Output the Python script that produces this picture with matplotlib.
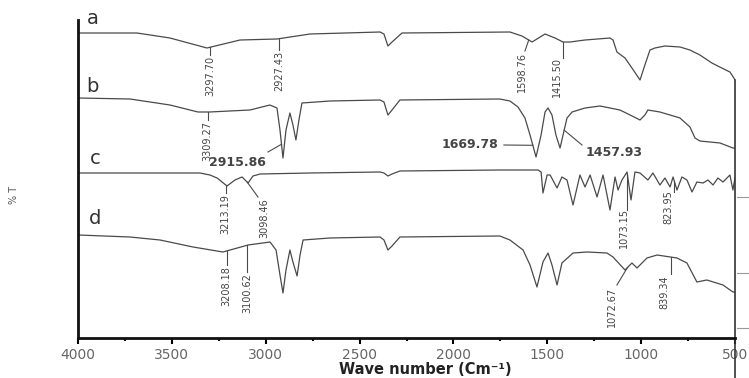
import numpy as np
import matplotlib.pyplot as plt

# FTIR spectra, wavenumber (cm-1) vs transmittance (offset, arbitrary units)
wn_a = [4000, 3686, 3510, 3313, 3137, 2940, 2764, 2391, 2370, 2349, 2327, 2274,
        1699, 1635, 1581, 1512, 1459, 1416, 1379, 1299, 1166, 1150, 1129, 1086,
        1049, 1006, 980, 953, 927, 873, 793, 740, 687, 623, 581, 527, 506, 500]
t_a = [305, 305, 300, 290, 298, 299, 304, 306, 304, 292, 296, 305,
       306, 302, 296, 304, 300, 296, 296, 298, 300, 298, 286, 280,
       270, 258, 273, 288, 290, 292, 291, 288, 283, 275, 271, 266, 260, 258]

wn_b = [4000, 3723, 3510, 3361, 3300, 3084, 2978, 2940, 2924, 2908, 2892, 2871,
        2855, 2839, 2823, 2807, 2658, 2391, 2370, 2349, 2327, 2285, 1753, 1699,
        1656, 1619, 1592, 1560, 1533, 1512, 1496, 1475, 1454, 1432, 1416, 1395,
        1368, 1299, 1219, 1113, 1059, 1006, 980, 964, 900, 846, 793, 740, 713,
        687, 580, 511, 500]
t_b = [240, 239, 233, 226, 226, 228, 233, 230, 208, 180, 208, 225,
       213, 198, 218, 235, 237, 238, 236, 223, 228, 238, 239, 237,
       231, 220, 203, 181, 203, 226, 230, 223, 203, 190, 203, 220,
       226, 230, 232, 228, 223, 218, 223, 228, 226, 223, 220, 211, 200,
       197, 195, 190, 190]

wn_c = [4000, 3350, 3297, 3259, 3206, 3164, 3126, 3094, 3068, 3030, 2764, 2391,
        2370, 2349, 2327, 2285, 1753, 1549, 1533, 1523, 1501, 1485, 1448, 1422,
        1395, 1363, 1326, 1299, 1272, 1235, 1203, 1166, 1139, 1123, 1102, 1075,
        1054, 1033, 1006, 964, 937, 900, 873, 846, 830, 809, 783, 756, 729, 703,
        670, 644, 617, 591, 564, 527, 511, 500]
t_c = [165, 165, 163, 160, 152, 158, 161, 155, 162, 164, 165, 166,
       165, 162, 164, 167, 168, 168, 166, 145, 163, 163, 150, 161,
       158, 133, 163, 151, 163, 141, 163, 128, 161, 148, 158, 166,
       138, 166, 165, 158, 165, 153, 160, 151, 161, 148, 161, 158, 146, 156,
       155, 158, 153, 160, 156, 163, 148, 160]

wn_d = [4000, 3723, 3563, 3387, 3228, 3094, 2977, 2945, 2924, 2908, 2892, 2871,
        2855, 2833, 2817, 2801, 2658, 2391, 2370, 2349, 2327, 2285, 1753, 1699,
        1629, 1592, 1555, 1523, 1496, 1475, 1448, 1422, 1363, 1288, 1182, 1150,
        1086, 1049, 1022, 969, 915, 809, 756, 703, 650, 564, 511, 500]
t_d = [103, 101, 98, 91, 86, 93, 96, 88, 63, 45, 68, 88,
       76, 62, 83, 98, 100, 101, 98, 88, 92, 101, 102, 98,
       88, 73, 51, 76, 85, 73, 53, 75, 85, 86, 85, 81,
       68, 75, 70, 80, 83, 80, 75, 56, 58, 53, 46, 46]

spectra = {'a': (wn_a, t_a), 'b': (wn_b, t_b), 'c': (wn_c, t_c), 'd': (wn_d, t_d)}

# peak labels: text, spectrum, leader start wavenumber, leader end (wn, t), text anchor (wn, t), rotation
peak_labels = [
    ('3297.70', 'a', 3297.70, (3297.70, 283), (3297.70, 282), 90),
    ('2927.43', 'a', 2927.43, (2927.43, 288), (2927.43, 287), 90),
    ('1598.76', 'a', 1598.76, (1619, 287), (1635, 286), 90),
    ('1415.50', 'a', 1415.50, (1415.50, 280), (1448, 281), 90),
    ('3309.27', 'b', 3309.27, (3309.27, 218), (3309.27, 217), 90),
    ('2915.86', 'b', 2915.86, (2988, 186), (3153, 175), 0),
    ('1669.78', 'b', 1577.00, (1731, 193), (1912, 193), 0),
    ('1457.93', 'b', 1410.00, (1315, 193), (1145, 186), 0),
    ('3213.19', 'c', 3213.19, (3213.19, 145), (3213.19, 144), 90),
    ('3098.46', 'c', 3098.46, (3041, 141), (3009, 140), 90),
    ('1073.15', 'c', 1073.15, (1073.15, 128), (1090, 130), 90),
    ('823.95', 'c', 823.95, (823.95, 146), (855, 148), 90),
    ('3208.18', 'd', 3208.18, (3208.18, 73), (3208.18, 72), 90),
    ('3100.62', 'd', 3100.62, (3100.62, 66), (3100.62, 65), 90),
    ('1072.67', 'd', 1072.67, (1129, 53), (1155, 51), 90),
    ('839.34', 'd', 839.34, (839.34, 64), (878, 63), 90),
]

letter_pos = {'a': (3920, 319), 'b': (3925, 251), 'c': (3909, 180), 'd': (3909, 119)}

line_col = '#4a4a4a'
text_col = '#444444'

fig = plt.figure(figsize=(7.49, 3.78), dpi=100)
ax = fig.add_axes([78 / 749, 40 / 378, 657 / 749, 318 / 378])

for key, (wn, t) in spectra.items():
    ax.plot(wn, t, color=line_col, lw=0.9)
    lx, ly = letter_pos[key]
    ax.text(lx, ly, key, fontsize=14, color='#333333', ha='center', va='center')

# cut-off edge at 500 cm-1
ax.plot([500, 500], [t_a[-1], -40], color='#333333', lw=1.2, clip_on=False)
for yy in [141, 65, 10]:
    ax.plot([489, 425], [yy, yy], color='#999999', lw=0.8, clip_on=False)

for txt, key, pk, end, pos, rot in peak_labels:
    wn, t = spectra[key]
    y0 = np.interp(pk, wn[::-1], t[::-1])
    ax.plot([pk, end[0]], [y0, end[1]], color=line_col, lw=0.8)
    if rot == 90:
        ax.text(pos[0], pos[1], txt, rotation=90, fontsize=7, color=text_col,
                ha='center', va='top')
    else:
        ax.text(pos[0], pos[1], txt, fontsize=9, color=text_col, fontweight='bold',
                ha='center', va='center')

ax.set_xlim(4000, 500)
ax.set_ylim(0, 318)
ax.set_xticks(np.arange(4000, 499, -500))
ax.set_xticks(np.arange(3750, 500, -500), minor=True)
ax.set_yticks([])
ax.tick_params(axis='x', which='major', direction='out', length=4, width=1.5,
               labelsize=10, labelcolor='#666666', pad=3)
ax.tick_params(axis='x', which='minor', direction='out', length=2, width=1.5)
for side in ['top', 'right']:
    ax.spines[side].set_visible(False)
for side in ['left', 'bottom']:
    ax.spines[side].set_linewidth(2)
    ax.spines[side].set_color('#111111')

fig.text(425 / 749, 1 - 370 / 378, 'Wave number (Cm\u207b\u00b9)', fontsize=10.5,
         fontweight='bold', color='#222222', ha='center', va='center')
fig.text(14 / 749, 1 - 195 / 378, '% T', fontsize=7, rotation=90, color='#555555',
         ha='center', va='center')

fig.savefig('out.png', dpi=100)
